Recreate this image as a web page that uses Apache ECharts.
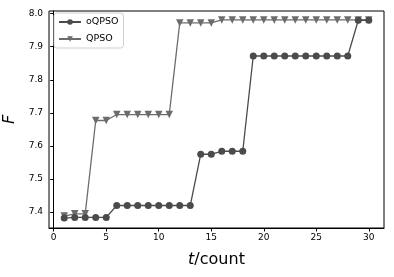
<!DOCTYPE html>
<html><head><meta charset="utf-8">
<script src="https://cdn.jsdelivr.net/npm/echarts@6/dist/echarts.min.js"></script>
<style>html,body{margin:0;padding:0;background:#fff}#c{width:394px;height:277px}</style>
</head><body><div id="c"></div>
<script>
var iterations = [1,2,3,4,5,6,7,8,9,10,11,12,13,14,15,16,17,18,19,20,21,22,23,24,25,26,27,28,29,30];
var oQPSO = [7.382,7.384,7.384,7.384,7.384,7.420,7.420,7.420,7.420,7.420,7.420,7.420,7.420,7.575,7.575,7.584,7.584,7.584,7.872,7.872,7.872,7.872,7.872,7.872,7.872,7.872,7.872,7.872,7.980,7.980];
var QPSO = [7.388,7.395,7.395,7.677,7.677,7.695,7.695,7.695,7.695,7.695,7.695,7.972,7.972,7.972,7.972,7.981,7.981,7.981,7.981,7.981,7.981,7.981,7.981,7.981,7.981,7.981,7.981,7.981,7.981,7.981];
var xTicks = [0,5,10,15,20,25,30];
var yTicks = [7.4,7.5,7.6,7.7,7.8,7.9,8.0];

function pairs(v){ return iterations.map(function(x,i){ return [x, v[i]]; }); }
var font = 'DejaVu Sans';
var chart = echarts.init(document.getElementById('c'));
chart.setOption({
  animation: false,
  backgroundColor: '#fff',
  grid: {left: 49, right: 10, top: 11, bottom: 49, containLabel: false, outerBoundsMode: 'none',
         show: true, borderColor: '#000', borderWidth: 1, backgroundColor: 'transparent'},
  legend: {
    orient: 'vertical', left: 54, top: 13,
    itemWidth: 22, itemHeight: 7, itemGap: 7,
    padding: [4, 5, 4, 4],
    borderColor: '#d0d0d0', borderWidth: 1, borderRadius: 3,
    backgroundColor: '#fff',
    textStyle: {fontFamily: font, fontSize: 9.5, color: '#000'},
    data: ['oQPSO','QPSO']
  },
  xAxis: {
    type: 'value', min: -0.45, max: 31.45,
    name: '{i|t}/count', nameLocation: 'middle', nameGap: 24,
    nameTextStyle: {fontFamily: font, fontSize: 16, color: '#000', rich: {i: {fontFamily: font, fontStyle: 'italic', fontSize: 16}}},
    axisLine: {show: true, lineStyle: {color: '#000', width: 1}},
    axisTick: {show: true, inside: false, length: 3.5, lineStyle: {color: '#000'}, customValues: xTicks},
    axisLabel: {fontFamily: font, fontSize: 9, color: '#000', margin: 5, customValues: xTicks},
    splitLine: {show: false}
  },
  yAxis: {
    type: 'value', min: 7.352, max: 8.008,
    name: 'F', nameLocation: 'middle', nameGap: 27, nameRotate: 90,
    nameTextStyle: {fontFamily: font, fontStyle: 'italic', fontSize: 16, color: '#000'},
    axisLine: {show: true, lineStyle: {color: '#000', width: 1}},
    axisTick: {show: true, length: 3.5, lineStyle: {color: '#000'}, customValues: yTicks},
    axisLabel: {fontFamily: font, fontSize: 9, color: '#000', margin: 6, customValues: yTicks, formatter: function(v){ return v.toFixed(1); }},
    splitLine: {show: false}
  },
  series: [
    {name: 'oQPSO', type: 'line', data: pairs(oQPSO), symbol: 'circle', symbolSize: 7,
     itemStyle: {color: '#4b4b4b'}, lineStyle: {color: '#4b4b4b', width: 1.3}, z: 3},
    {name: 'QPSO', type: 'line', data: pairs(QPSO), symbol: 'triangle', symbolRotate: 180, symbolSize: 7.5,
     itemStyle: {color: '#6c6c6c'}, lineStyle: {color: '#6c6c6c', width: 1.3}, z: 2}
  ]
});
</script></body></html>
